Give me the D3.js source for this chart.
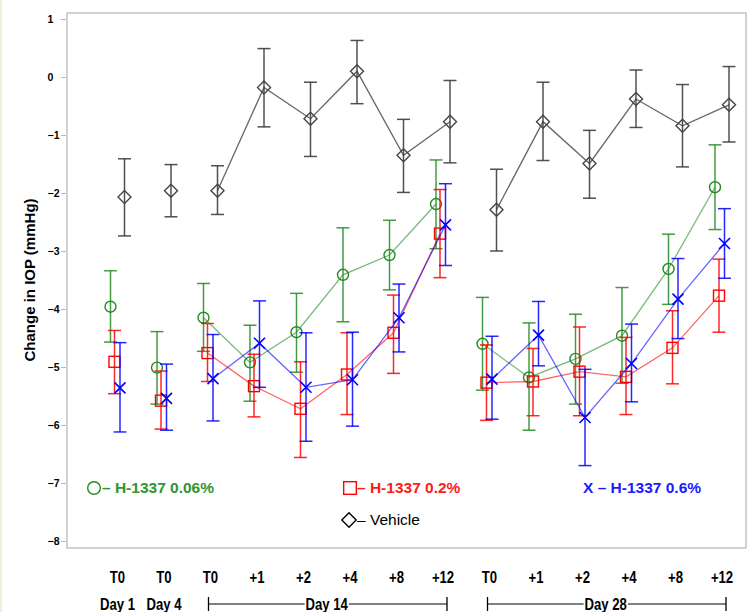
<!DOCTYPE html>
<html>
<head>
<meta charset="utf-8">
<script src="https://cdn.jsdelivr.net/npm/d3@7"></script>
<style>
  body { margin: 0; background: #fff; }
  text { font-family: "Liberation Sans", Arial, sans-serif; }
</style>
</head>
<body>
<div id="plot"></div>
<script>
// x categories (time points) and day groups
var timeLabels = ["T0","T0","T0","+1","+2","+4","+8","+12","T0","+1","+2","+4","+8","+12"];
var dayGroups = [
  {name: "Day 1", from: 0, to: 0, bracket: false},
  {name: "Day 4", from: 1, to: 1, bracket: false},
  {name: "Day 14", from: 2, to: 7, bracket: true},
  {name: "Day 28", from: 8, to: 13, bracket: true}
];
// connected runs of points
var segments = [[2,7],[8,13]];
var yTicks = [1,0,-1,-2,-3,-4,-5,-6,-7,-8];

// H-1337 0.06%
var greenMean  = [-3.96,-5.01,-4.15,-4.92,-4.40,-3.41,-3.07,-2.19,-4.60,-5.18,-4.86,-4.46,-3.31,-1.90];
var greenUpper = [-3.34,-4.39,-3.56,-4.28,-3.73,-2.60,-2.47,-1.43,-3.80,-4.24,-4.09,-3.63,-2.71,-1.17];
var greenLower = [-4.57,-5.64,-4.73,-5.59,-5.09,-4.22,-3.67,-2.96,-5.40,-6.09,-5.64,-5.28,-3.92,-2.63];
// H-1337 0.2%
var redMean  = [-4.91,-5.58,-4.76,-5.33,-5.72,-5.13,-4.41,-2.70,-5.27,-5.25,-5.08,-5.17,-4.67,-3.77];
var redUpper = [-4.37,-5.07,-4.25,-4.78,-4.91,-4.41,-3.76,-1.94,-4.62,-4.68,-4.31,-4.49,-4.03,-3.14];
var redLower = [-5.46,-6.07,-5.25,-5.86,-6.56,-5.82,-5.11,-3.46,-5.92,-5.84,-5.84,-5.82,-5.29,-4.40];
// H-1337 0.6%
var blueMean  = [-5.36,-5.54,-5.20,-4.59,-5.35,-5.22,-4.15,-2.55,-5.21,-4.45,-5.87,-4.94,-3.83,-2.87];
var blueUpper = [-4.58,-4.95,-4.44,-3.86,-4.41,-4.40,-3.57,-1.84,-4.47,-3.87,-5.04,-4.26,-3.13,-2.27];
var blueLower = [-6.12,-6.09,-5.93,-5.35,-6.28,-6.02,-4.74,-3.25,-5.90,-4.98,-6.70,-5.60,-4.51,-3.47];
// Vehicle
var vehMean  = [-2.07,-1.96,-1.96,-0.18,-0.72,0.10,-1.35,-0.77,-2.29,-0.77,-1.49,-0.38,-0.84,-0.48];
var vehUpper = [-1.41,-1.51,-1.53,0.49,-0.09,0.63,-0.73,-0.06,-1.59,-0.09,-0.92,0.12,-0.13,0.18];
var vehLower = [-2.74,-2.41,-2.37,-0.86,-1.37,-0.46,-1.99,-1.48,-3.00,-1.44,-2.09,-0.87,-1.55,-1.12];

var series = [
  {name: "H-1337 0.06%", mean: greenMean, lo: greenLower, hi: greenUpper, color: "#228b22", text: "#2e962e", shape: "circle", dx: -7},
  {name: "H-1337 0.2%",  mean: redMean,   lo: redLower,   hi: redUpper,   color: "#ff0000", text: "#ff1a1a", shape: "square", dx: -3},
  {name: "H-1337 0.6%",  mean: blueMean,  lo: blueLower,  hi: blueUpper,  color: "#0000ff", text: "#1a1aff", shape: "x", dx: 2.5},
  {name: "Vehicle",      mean: vehMean,   lo: vehLower,   hi: vehUpper,   color: "#333333", text: "#000000", shape: "diamond", dx: 7}
];

var W = 751, H = 612;
var svg = d3.select("#plot").append("svg")
  .attr("width", W).attr("height", H);

var x = d3.scaleLinear().domain([0, 13]).range([117.5, 722]);
var y = d3.scaleLinear().domain([-8, 1]).range([541, 19]);

// faint page edge
svg.append("line").attr("x1", 1).attr("x2", 1).attr("y1", 0).attr("y2", H)
  .attr("stroke", "#f3ecd6").attr("stroke-width", 2);

// plot frame
svg.append("rect")
  .attr("x", 67).attr("y", 13).attr("width", 679).attr("height", 535)
  .attr("fill", "none").attr("stroke", "#c4c4c4").attr("stroke-width", 1.5);

// y axis
var yAxis = svg.append("g").attr("transform", "translate(66,0)")
  .call(d3.axisLeft(y).tickValues(yTicks).tickSize(5).tickFormat(d3.format("d")));
yAxis.select(".domain").remove();
yAxis.selectAll(".tick line").attr("stroke", "#a9bfd6");
yAxis.selectAll(".tick text")
  .attr("x", -18.5).attr("text-anchor", "start")
  .style("font-size", "10.5px").style("font-weight", "bold")
  .style("font-family", "'Liberation Sans', Arial, sans-serif").attr("fill", "#000");

svg.append("text")
  .attr("transform", "translate(35,280) rotate(-90)")
  .attr("text-anchor", "middle")
  .style("font-size", "15px").style("font-weight", "bold")
  .text("Change in IOP (mmHg)");

// x labels (condensed look)
var squeeze = 0.82;
function condensed(sel, cx, cy) {
  sel.attr("transform", "translate(" + cx + "," + cy + ") scale(" + squeeze + ",1)")
    .attr("text-anchor", "middle")
    .style("font-size", "16px").style("font-weight", "bold");
}
svg.append("g").selectAll("text")
  .data(timeLabels).enter().append("text")
  .each(function (d, i) { condensed(d3.select(this), x(i), 583); })
  .text(function (d) { return d; });

var days = svg.append("g");
dayGroups.forEach(function (g) {
  var cx = (x(g.from) + x(g.to)) / 2;
  var t = days.append("text").text(g.name);
  condensed(t, cx, 610);
  if (g.bracket) {
    var half = t.node().getComputedTextLength() * squeeze / 2 + 1;
    var x0 = x(g.from) - 2, x1 = x(g.to) + 4, yb = 604;
    [[x0, cx - half], [cx + half, x1]].forEach(function (p) {
      days.append("line").attr("x1", p[0]).attr("x2", p[1]).attr("y1", yb).attr("y2", yb)
        .attr("stroke", "#000").attr("stroke-width", 1);
    });
    [x0, x1].forEach(function (xx) {
      days.append("line").attr("x1", xx).attr("x2", xx).attr("y1", yb - 7).attr("y2", yb + 7)
        .attr("stroke", "#000").attr("stroke-width", 1.3);
    });
  }
});

// marker drawing
function marker(g, shape, cx, cy, color, s) {
  s = s || 1;
  if (shape == "circle") {
    g.append("circle").attr("cx", cx).attr("cy", cy).attr("r", 5.5 * s)
      .attr("fill", "none").attr("stroke", color).attr("stroke-width", 1.4);
  } else if (shape == "square") {
    g.append("rect").attr("x", cx - 5.5 * s).attr("y", cy - 5.5 * s)
      .attr("width", 11 * s).attr("height", 11 * s)
      .attr("fill", "none").attr("stroke", color).attr("stroke-width", 1.4);
  } else if (shape == "diamond") {
    var r = 6.5 * s;
    g.append("path")
      .attr("d", "M" + cx + "," + (cy - r) + "L" + (cx + r) + "," + cy + "L" + cx + "," + (cy + r) + "L" + (cx - r) + "," + cy + "Z")
      .attr("fill", "none").attr("stroke", color).attr("stroke-width", 1.4);
  } else {
    var a = 5.5 * s;
    g.append("path")
      .attr("d", "M" + (cx - a) + "," + (cy - a) + "L" + (cx + a) + "," + (cy + a) + "M" + (cx - a) + "," + (cy + a) + "L" + (cx + a) + "," + (cy - a))
      .attr("fill", "none").attr("stroke", color).attr("stroke-width", 1.6);
  }
}

var line = d3.line()
  .x(function (d) { return d.x; })
  .y(function (d) { return d.y; });

series.forEach(function (s) {
  var g = svg.append("g");
  var pts = s.mean.map(function (v, i) {
    return {x: x(i) + s.dx, y: y(v), lo: y(s.lo[i]), hi: y(s.hi[i])};
  });
  // connecting lines
  segments.forEach(function (seg) {
    g.append("path")
      .datum(pts.slice(seg[0], seg[1] + 1))
      .attr("d", line)
      .attr("fill", "none")
      .attr("stroke", s.shape == "diamond" ? "#555" : s.color)
      .attr("stroke-opacity", s.shape == "diamond" ? 0.9 : 0.6)
      .attr("stroke-width", 1.3);
  });
  // error bars
  pts.forEach(function (p) {
    g.append("line").attr("x1", p.x).attr("x2", p.x).attr("y1", p.hi).attr("y2", p.lo)
      .attr("stroke", s.color).attr("stroke-opacity", 0.85).attr("stroke-width", 1.5);
    [p.hi, p.lo].forEach(function (yy) {
      g.append("line").attr("x1", p.x - 6.5).attr("x2", p.x + 6.5).attr("y1", yy).attr("y2", yy)
        .attr("stroke", s.color).attr("stroke-opacity", 0.85).attr("stroke-width", 1.5);
    });
  });
  pts.forEach(function (p) {
    marker(g, s.shape, p.x, p.y, s.shape == "diamond" ? "#444" : s.color);
  });
});

// legend
var leg = svg.append("g").style("font-size", "15.5px").style("font-weight", "bold");
marker(leg, "circle", 94, 488, series[0].color, 1.15);
leg.append("text").attr("x", 102).attr("y", 493).attr("fill", series[0].text).text("\u2013 " + series[0].name);
marker(leg, "square", 350, 488, series[1].color, 1.15);
leg.append("text").attr("x", 357).attr("y", 493).attr("fill", series[1].text).text("\u2013 " + series[1].name);
leg.append("text").attr("x", 583).attr("y", 493).attr("fill", series[2].text).text("X \u2013 " + series[2].name);
marker(leg, "diamond", 349, 520, "#000", 1.1);
leg.append("text").attr("x", 357).attr("y", 525).attr("fill", "#000").style("font-weight", "normal").text("\u2013 " + series[3].name);
</script>
</body>
</html>
